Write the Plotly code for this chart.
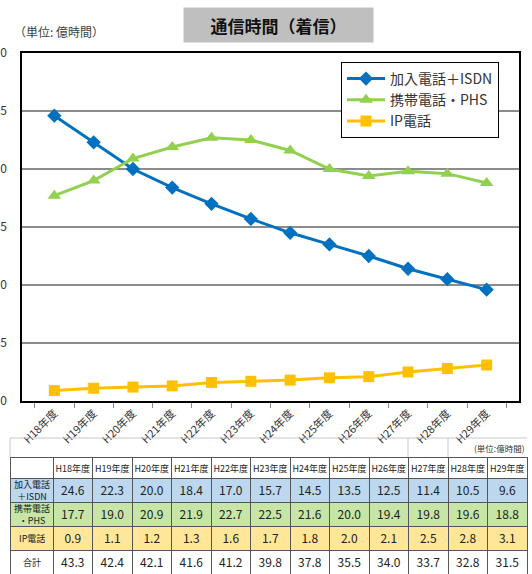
import plotly.graph_objects as go

years = ["H18年度", "H19年度", "H20年度", "H21年度", "H22年度", "H23年度",
         "H24年度", "H25年度", "H26年度", "H27年度", "H28年度", "H29年度"]
fixed_isdn = [24.6, 22.3, 20.0, 18.4, 17.0, 15.7, 14.5, 13.5, 12.5, 11.4, 10.5, 9.6]
mobile_phs = [17.7, 19.0, 20.9, 21.9, 22.7, 22.5, 21.6, 20.0, 19.4, 19.8, 19.6, 18.8]
ip_phone = [0.9, 1.1, 1.2, 1.3, 1.6, 1.7, 1.8, 2.0, 2.1, 2.5, 2.8, 3.1]
totals = [43.3, 42.4, 42.1, 41.6, 41.2, 39.8, 37.8, 35.5, 34.0, 33.7, 32.8, 31.5]

series_names = ["加入電話＋ISDN", "携帯電話・PHS", "IP電話"]
table_row_labels = ["加入電話<br>＋ISDN", "携帯電話<br>・PHS", "IP電話", "合計"]
y_ticks = [0, 5, 10, 15, 20, 25, 30]

W, H = 532, 574
JP = "Noto Sans CJK JP, Noto Sans, sans-serif"

def px(x):
    return x / W

def py(y):
    return 1 - y / H

fig = go.Figure()

styles = [
    dict(color="#0070c0", symbol="diamond", size=11),
    dict(color="#92d050", symbol="triangle-up", size=12),
    dict(color="#ffc000", symbol="square", size=11),
]
for i, (name, vals, st) in enumerate(zip(series_names, [fixed_isdn, mobile_phs, ip_phone], styles)):
    fig.add_trace(go.Scatter(
        x=years, y=vals, name=name, mode="lines+markers",
        line=dict(color=st["color"], width=3),
        marker=dict(color=st["color"], symbol=st["symbol"], size=st["size"]),
        legendgroup=f"g{i}",
    ))

# table geometry
T_LEFT, T_RIGHT, T_TOP = 10, 527, 457
HEAD_H, ROW_H = 21, 24
LABEL_W, COL_W = 43, 39.5

row_colors = ["#bdd7ee", "#c6e5a6", "#ffe699", "#ffffff"]
cell_values = [[""] * len(table_row_labels)] + [
    [f"{fixed_isdn[i]:.1f}", f"{mobile_phs[i]:.1f}", f"{ip_phone[i]:.1f}", f"{totals[i]:.1f}"]
    for i in range(len(years))
]
fig.add_trace(go.Table(
    domain=dict(x=[px(T_LEFT), px(T_RIGHT)], y=[0, py(T_TOP)]),
    columnwidth=[LABEL_W] + [COL_W] * len(years),
    header=dict(values=[""] + years, fill_color="white",
                line=dict(color="#555555", width=1),
                font=dict(family=JP, size=9, color="#222222"),
                align="center", height=HEAD_H),
    cells=dict(values=cell_values,
               fill_color=[row_colors] * (len(years) + 1),
               line=dict(color="#555555", width=1),
               font=dict(family=JP, size=12, color="#222222"),
               align="center", height=ROW_H),
))

annotations = [
    dict(text="<b>通信時間（着信）</b>", x=px(278.5), y=py(25), xref="paper", yref="paper",
         xanchor="center", yanchor="middle", showarrow=False,
         width=189, height=34, bgcolor="#bfbfbf", borderpad=0,
         font=dict(family=JP, size=17, color="#111111")),
    dict(text="（単位: 億時間）", x=px(12), y=py(31), xref="paper", yref="paper",
         xanchor="left", yanchor="middle", showarrow=False,
         font=dict(family=JP, size=12, color="#404040")),
    dict(text="(単位:億時間)", x=px(527), y=py(448), xref="paper", yref="paper",
         xanchor="right", yanchor="middle", showarrow=False,
         font=dict(family=JP, size=8.5, color="#333333")),
]
# row labels of the table's first column (two-line labels do not fit a plotly table row)
for r, lab in enumerate(table_row_labels):
    yc = T_TOP + HEAD_H + ROW_H * r + ROW_H / 2
    annotations.append(dict(text=lab, x=px(T_LEFT + LABEL_W / 2), y=py(yc),
                            xref="paper", yref="paper", xanchor="center", yanchor="middle",
                            showarrow=False,
                            font=dict(family=JP, size=9, color="#222222")))

fig.update_layout(
    width=W, height=H, autosize=False,
    margin=dict(l=0, r=0, t=0, b=0),
    paper_bgcolor="white", plot_bgcolor="white",
    font=dict(family=JP, color="#333333"),
    showlegend=True,
    legend=dict(x=px(341), y=py(62), xanchor="left", yanchor="top",
                bgcolor="white", bordercolor="black", borderwidth=1,
                font=dict(family=JP, size=14, color="#333333"),
                traceorder="grouped", tracegroupgap=0, itemwidth=38),
    xaxis=dict(domain=[px(22), px(519)], type="category", automargin=False,
               showline=True, linecolor="black", linewidth=1.5, mirror=True,
               ticks="outside", tickson="boundaries", ticklen=5, tickcolor="#888888",
               tickangle=-45, tickfont=dict(family=JP, size=11, color="#333333"),
               showgrid=False),
    yaxis=dict(domain=[py(401), py(53)], range=[0, 30], tickvals=y_ticks, automargin=False,
               showline=True, linecolor="black", linewidth=1.5, mirror=True,
               showgrid=True, gridcolor="#8c8c8c", gridwidth=1.5,
               ticks="", ticklabelstandoff=11,
               tickfont=dict(family=JP, size=12, color="#333333"), zeroline=False),
    annotations=annotations,
    shapes=[
        dict(type="line", xref="paper", yref="paper", x0=px(10), x1=px(527), y0=py(438), y1=py(438),
             line=dict(color="#c8c8c8", width=1)),
        dict(type="line", xref="paper", yref="paper", x0=px(10), x1=px(10), y0=py(438), y1=py(457),
             line=dict(color="#c8c8c8", width=1)),
        dict(type="line", xref="paper", yref="paper", x0=px(408), x1=px(408), y0=py(438), y1=py(457),
             line=dict(color="#c8c8c8", width=1)),
        dict(type="line", xref="paper", yref="paper", x0=px(448), x1=px(448), y0=py(438), y1=py(457),
             line=dict(color="#c8c8c8", width=1)),
    ],
)

fig.write_html("out.html", config={"displayModeBar": False},
               post_script="document.body.style.margin='0';document.body.style.overflow='hidden';")
